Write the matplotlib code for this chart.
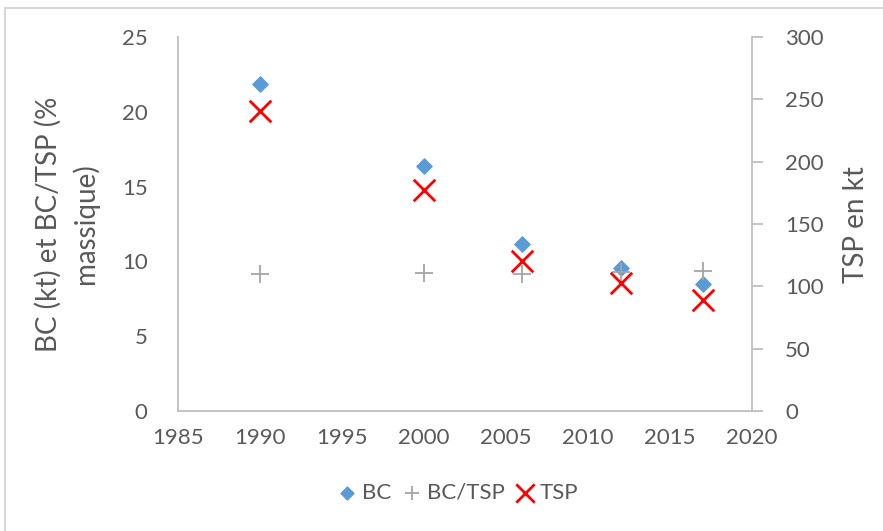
import matplotlib
matplotlib.use("Agg")
import matplotlib.pyplot as plt
from matplotlib.patches import Rectangle

years = [1990, 2000, 2006, 2012, 2017]
bc = [21.9, 16.4, 11.2, 9.55, 8.5]
bc_tsp = [9.15, 9.2, 9.15, 9.3, 9.35]
tsp = [241, 177, 120, 103, 89]

grey = "#595959"
axis_col = "#bfbfbf"
plt.rcParams["font.family"] = ["Lato", "DejaVu Sans"]

fig = plt.figure(figsize=(8.83, 5.31), dpi=100)
fig.patches.append(Rectangle((0.006, -0.01), 1.2, 0.995, transform=fig.transFigure,
                             fill=False, edgecolor="#d0d0d0", lw=1.2))
ax = fig.add_axes([0.2016, 0.226, 0.65, 0.704])
ax2 = ax.twinx()

h1 = ax.scatter(years, bc, marker="D", s=60, color="#5b9bd5", zorder=3, label="BC")
h2 = ax.scatter(years, bc_tsp, marker="+", s=150, color="#a5a5a5", linewidths=1.3, zorder=3, label="BC/TSP")
h3 = ax2.scatter(years, tsp, marker="x", s=240, color="#ff0000", linewidths=2, zorder=3, label="TSP")

ax.set_xlim(1985, 2020)
ax.set_ylim(0, 25)
ax2.set_ylim(0, 300)
ax.set_xticks(range(1985, 2021, 5))
ax.set_yticks(range(0, 26, 5))
ax2.set_yticks(range(0, 301, 50))

for a in (ax, ax2):
    for s in a.spines.values():
        s.set_visible(False)
ax.spines["left"].set_visible(True)
ax.spines["bottom"].set_visible(True)
ax2.spines["right"].set_visible(True)
for s in (ax.spines["left"], ax.spines["bottom"], ax2.spines["right"]):
    s.set_color(axis_col)
    s.set_linewidth(1.3)

ax.tick_params(axis="x", length=0, labelsize=16, labelcolor=grey, pad=12)
ax.tick_params(axis="y", length=0, labelsize=16, labelcolor=grey, pad=22)
ax2.tick_params(axis="y", length=8, width=1.3, color=axis_col, labelsize=16, labelcolor=grey, pad=16)

ax.set_ylabel("BC (kt) et BC/TSP (%\nmassique)", fontsize=20, color=grey, labelpad=16,
              linespacing=1.45)
ax2.set_ylabel("TSP en kt", fontsize=20, color=grey, labelpad=14)

fig.legend(handles=[h1, h2, h3], loc="center", bbox_to_anchor=(0.516, 0.072), ncol=3,
           frameon=False, fontsize=16, labelcolor=grey, handletextpad=0.0, columnspacing=0.3,
           handlelength=1.3, markerscale=0.85)

fig.savefig("out.png", dpi=100)
